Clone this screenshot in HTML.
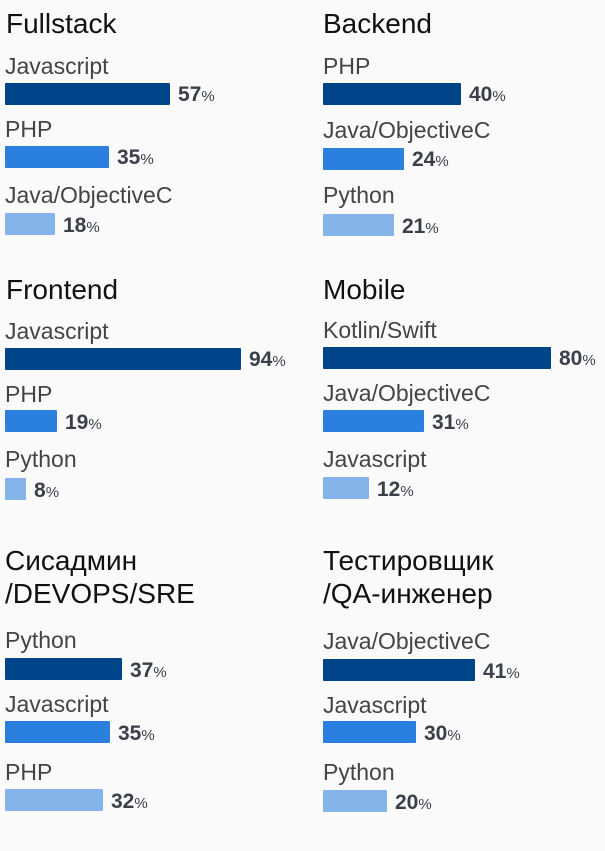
<!DOCTYPE html><html><head><meta charset="utf-8"><style>
body{margin:0;width:605px;height:851px;background:#fafafa;position:relative;overflow:hidden;font-family:"Liberation Sans","DejaVu Sans",sans-serif}
.t{position:absolute;font-size:28px;line-height:28px;color:#111;white-space:nowrap}
.l{position:absolute;font-size:23px;line-height:23px;color:#444;white-space:nowrap}
.b{position:absolute;height:22px;border-radius:1px}
.v{position:absolute;font-size:21px;line-height:21px;font-weight:bold;color:#3a3f4a;white-space:nowrap}
.v span{font-size:15px;font-weight:normal}
.c1{background:#00448a}.c2{background:#2a7fdf}.c3{background:#85b4eb}
</style></head><body>
<div class="t" style="left:6px;top:10px">Fullstack</div>
<div class="l" style="left:5px;top:55px">Javascript</div><div class="b c1" style="left:5px;top:83px;width:165px"></div><div class="v" style="left:178px;top:84px">57<span>%</span></div>
<div class="l" style="left:5px;top:118px">PHP</div><div class="b c2" style="left:5px;top:146px;width:104px"></div><div class="v" style="left:117px;top:147px">35<span>%</span></div>
<div class="l" style="left:5px;top:184px">Java/ObjectiveC</div><div class="b c3" style="left:5px;top:213px;width:50px"></div><div class="v" style="left:63px;top:215px">18<span>%</span></div>

<div class="t" style="left:323px;top:10px">Backend</div>
<div class="l" style="left:323px;top:55px">PHP</div><div class="b c1" style="left:323px;top:83px;width:138px"></div><div class="v" style="left:469px;top:84px">40<span>%</span></div>
<div class="l" style="left:323px;top:119px">Java/ObjectiveC</div><div class="b c2" style="left:323px;top:148px;width:81px"></div><div class="v" style="left:412px;top:149px">24<span>%</span></div>
<div class="l" style="left:323px;top:184px">Python</div><div class="b c3" style="left:323px;top:214px;width:71px"></div><div class="v" style="left:402px;top:216px">21<span>%</span></div>

<div class="t" style="left:6px;top:276px">Frontend</div>
<div class="l" style="left:5px;top:320px">Javascript</div><div class="b c1" style="left:5px;top:348px;width:236px"></div><div class="v" style="left:249px;top:349px">94<span>%</span></div>
<div class="l" style="left:5px;top:383px">PHP</div><div class="b c2" style="left:5px;top:410px;width:52px"></div><div class="v" style="left:65px;top:412px">19<span>%</span></div>
<div class="l" style="left:5px;top:448px">Python</div><div class="b c3" style="left:5px;top:478px;width:21px"></div><div class="v" style="left:34px;top:480px">8<span>%</span></div>

<div class="t" style="left:323px;top:276px">Mobile</div>
<div class="l" style="left:323px;top:319px">Kotlin/Swift</div><div class="b c1" style="left:323px;top:347px;width:228px"></div><div class="v" style="left:559px;top:348px">80<span>%</span></div>
<div class="l" style="left:323px;top:382px">Java/ObjectiveC</div><div class="b c2" style="left:323px;top:410px;width:101px"></div><div class="v" style="left:432px;top:412px">31<span>%</span></div>
<div class="l" style="left:323px;top:448px">Javascript</div><div class="b c3" style="left:323px;top:477px;width:46px"></div><div class="v" style="left:377px;top:479px">12<span>%</span></div>

<div class="t" style="left:5px;top:547px">Сисадмин</div><div class="t" style="left:5px;top:580px">/DEVOPS/SRE</div>
<div class="l" style="left:5px;top:629px">Python</div><div class="b c1" style="left:5px;top:658px;width:117px"></div><div class="v" style="left:130px;top:660px">37<span>%</span></div>
<div class="l" style="left:5px;top:693px">Javascript</div><div class="b c2" style="left:5px;top:721px;width:105px"></div><div class="v" style="left:118px;top:723px">35<span>%</span></div>
<div class="l" style="left:5px;top:761px">PHP</div><div class="b c3" style="left:5px;top:789px;width:98px"></div><div class="v" style="left:111px;top:791px">32<span>%</span></div>

<div class="t" style="left:323px;top:547px">Тестировщик</div><div class="t" style="left:323px;top:580px">/QA-инженер</div>
<div class="l" style="left:323px;top:630px">Java/ObjectiveC</div><div class="b c1" style="left:323px;top:659px;width:152px"></div><div class="v" style="left:483px;top:661px">41<span>%</span></div>
<div class="l" style="left:323px;top:694px">Javascript</div><div class="b c2" style="left:323px;top:721px;width:93px"></div><div class="v" style="left:424px;top:723px">30<span>%</span></div>
<div class="l" style="left:323px;top:761px">Python</div><div class="b c3" style="left:323px;top:790px;width:64px"></div><div class="v" style="left:395px;top:792px">20<span>%</span></div>
</body></html>
